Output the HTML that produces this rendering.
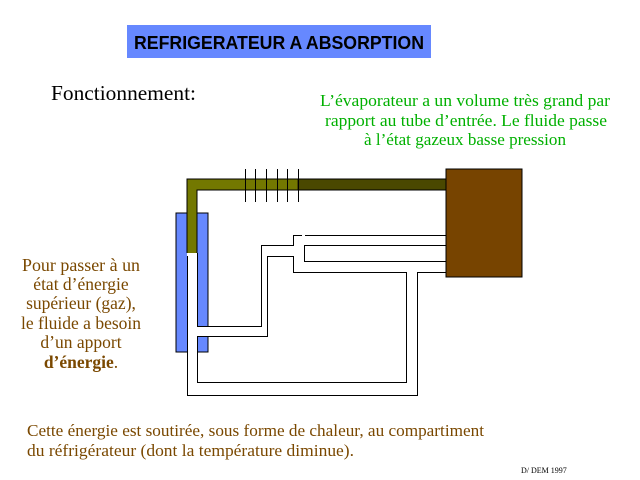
<!DOCTYPE html>
<html><head><meta charset="utf-8"><style>
html,body{margin:0;padding:0;background:#fff;}
svg{display:block}
</style></head><body>
<svg width="640" height="480" viewBox="0 0 640 480" xmlns="http://www.w3.org/2000/svg">
<rect x="127" y="25" width="304" height="33" fill="#6688ff"/>
<text x="279" y="49" text-anchor="middle" font-family="Liberation Sans, sans-serif" font-weight="bold" font-size="18" fill="#000" textLength="290" lengthAdjust="spacingAndGlyphs">REFRIGERATEUR A ABSORPTION</text>
<text x="51" y="100" font-family="'Liberation Serif', serif" font-size="21" fill="#000" textLength="145" lengthAdjust="spacingAndGlyphs">Fonctionnement:</text>
<g font-family="'Liberation Serif', serif" font-size="17" fill="#00b000" text-anchor="middle">
<text x="465" y="106" textLength="290" lengthAdjust="spacingAndGlyphs">L’évaporateur a un volume très grand par</text>
<text x="466" y="126" textLength="282" lengthAdjust="spacingAndGlyphs">rapport au tube d’entrée. Le fluide passe</text>
<text x="465" y="145" textLength="202" lengthAdjust="spacingAndGlyphs">à l’état gazeux basse pression</text>
</g>
<g font-family="'Liberation Serif', serif" font-size="17.5" fill="#7a4800" text-anchor="middle">
<text x="81" y="271" textLength="118" lengthAdjust="spacingAndGlyphs">Pour passer  à un</text>
<text x="81" y="290">état d’énergie</text>
<text x="81" y="309">supérieur (gaz),</text>
<text x="81" y="329">le fluide a besoin</text>
<text x="81" y="348">d’un apport</text>
<text x="81" y="368"><tspan font-weight="bold">d’énergie</tspan>.</text>
</g>
<g font-family="'Liberation Serif', serif" font-size="17" fill="#7a4800">
<text x="27" y="436" textLength="457" lengthAdjust="spacingAndGlyphs">Cette énergie est soutirée, sous forme de chaleur, au compartiment</text>
<text x="27" y="456" textLength="327" lengthAdjust="spacingAndGlyphs">du réfrigérateur (dont la température diminue).</text>
</g>
<text x="521" y="473" font-family="'Liberation Serif', serif" font-size="8" fill="#000">D/ DEM 1997</text>
<rect x="176" y="213" width="32" height="139" fill="#6688ff" stroke="#000" stroke-width="1"/>
<rect x="187" y="253" width="10" height="145" fill="#fff"/>
<rect x="197" y="327" width="12" height="9" fill="#fff"/>
<path d="M187,179 H297 V190 H197 V253 H187 Z" fill="#737800"/>
<rect x="297" y="179" width="149" height="11" fill="#4a4800"/>
<path d="M187,253 V179 H446 M197,253 V190 H446" fill="none" stroke="#000" stroke-width="1"/>
<g stroke="#000" stroke-width="1">
<line x1="245.5" y1="169" x2="245.5" y2="202"/><line x1="255.5" y1="169" x2="255.5" y2="202"/>
<line x1="266.5" y1="169" x2="266.5" y2="202"/><line x1="277.5" y1="169" x2="277.5" y2="202"/>
<line x1="287.5" y1="169" x2="287.5" y2="202"/><line x1="298.5" y1="169" x2="298.5" y2="202"/>
</g>
<rect x="446" y="169" width="76" height="108" fill="#774400" stroke="#000" stroke-width="1"/>
<g fill="none" stroke="#000" stroke-width="1">
<path d="M187.5,256 V395.5 H417.5 V272.5 H446"/>
<path d="M197.5,253 V326"/>
<path d="M197.5,336 V382.5 H406.5 V272.5 H293.5 V256.5 H267.5 V336.5 H197"/>
<path d="M197,326.5 H261.5 V245.5 H293.5 V235.5 H302"/>
<path d="M305,235.5 H446"/>
<path d="M446,245.5 H304.5 V261.5 H446"/>
</g>
</svg>
</body></html>
